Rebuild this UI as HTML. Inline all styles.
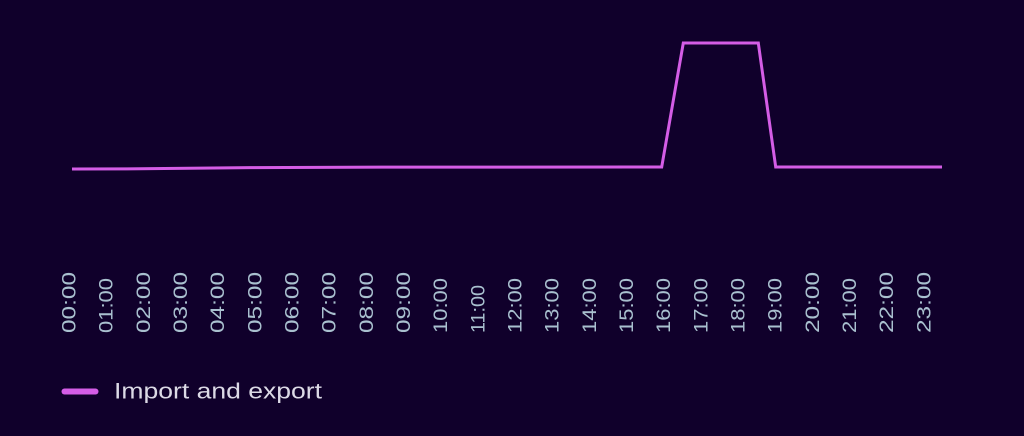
<!DOCTYPE html>
<html><head><meta charset="utf-8">
<style>
html,body{margin:0;padding:0;background:#10002b;}
svg{display:block;}
</style></head>
<body>
<svg width="1024" height="436" viewBox="0 0 1024 436" xmlns="http://www.w3.org/2000/svg">
<rect width="1024" height="436" fill="#10002b"/>
<polyline fill="none" stroke="#d45de6" stroke-width="3" stroke-linejoin="miter" stroke-linecap="butt"
 points="72,169 140,168.8 250,167.6 350,167.2 661.7,167 683.3,43 758.3,43 775.7,167 942,167"/>
<g font-family="Liberation Sans, sans-serif" font-size="19" fill="#a9c0cf">
<text transform="translate(75.5,333) rotate(-90)" textLength="61" lengthAdjust="spacingAndGlyphs">00:00</text>
<text transform="translate(112.7,333) rotate(-90)" textLength="55" lengthAdjust="spacingAndGlyphs">01:00</text>
<text transform="translate(149.8,333) rotate(-90)" textLength="61" lengthAdjust="spacingAndGlyphs">02:00</text>
<text transform="translate(187,333) rotate(-90)" textLength="61" lengthAdjust="spacingAndGlyphs">03:00</text>
<text transform="translate(224.2,333) rotate(-90)" textLength="61" lengthAdjust="spacingAndGlyphs">04:00</text>
<text transform="translate(261.4,333) rotate(-90)" textLength="61" lengthAdjust="spacingAndGlyphs">05:00</text>
<text transform="translate(298.5,333) rotate(-90)" textLength="61" lengthAdjust="spacingAndGlyphs">06:00</text>
<text transform="translate(335.7,333) rotate(-90)" textLength="61" lengthAdjust="spacingAndGlyphs">07:00</text>
<text transform="translate(372.9,333) rotate(-90)" textLength="61" lengthAdjust="spacingAndGlyphs">08:00</text>
<text transform="translate(410,333) rotate(-90)" textLength="61" lengthAdjust="spacingAndGlyphs">09:00</text>
<text transform="translate(447.2,333) rotate(-90)" textLength="55" lengthAdjust="spacingAndGlyphs">10:00</text>
<text transform="translate(484.4,333) rotate(-90)" textLength="48" lengthAdjust="spacingAndGlyphs">11:00</text>
<text transform="translate(521.5,333) rotate(-90)" textLength="55" lengthAdjust="spacingAndGlyphs">12:00</text>
<text transform="translate(558.7,333) rotate(-90)" textLength="55" lengthAdjust="spacingAndGlyphs">13:00</text>
<text transform="translate(595.9,333) rotate(-90)" textLength="55" lengthAdjust="spacingAndGlyphs">14:00</text>
<text transform="translate(633.1,333) rotate(-90)" textLength="55" lengthAdjust="spacingAndGlyphs">15:00</text>
<text transform="translate(670.2,333) rotate(-90)" textLength="55" lengthAdjust="spacingAndGlyphs">16:00</text>
<text transform="translate(707.4,333) rotate(-90)" textLength="55" lengthAdjust="spacingAndGlyphs">17:00</text>
<text transform="translate(744.6,333) rotate(-90)" textLength="55" lengthAdjust="spacingAndGlyphs">18:00</text>
<text transform="translate(781.7,333) rotate(-90)" textLength="55" lengthAdjust="spacingAndGlyphs">19:00</text>
<text transform="translate(818.9,333) rotate(-90)" textLength="61" lengthAdjust="spacingAndGlyphs">20:00</text>
<text transform="translate(856.1,333) rotate(-90)" textLength="55" lengthAdjust="spacingAndGlyphs">21:00</text>
<text transform="translate(893.2,333) rotate(-90)" textLength="61" lengthAdjust="spacingAndGlyphs">22:00</text>
<text transform="translate(930.4,333) rotate(-90)" textLength="61" lengthAdjust="spacingAndGlyphs">23:00</text>
</g>
<line x1="64.5" y1="391.5" x2="95.5" y2="391.5" stroke="#d45de6" stroke-width="6" stroke-linecap="round"/>
<text x="114" y="398.5" font-family="Liberation Sans, sans-serif" font-size="22" fill="#dcdae6" textLength="208" lengthAdjust="spacingAndGlyphs">Import and export</text>
</svg>
</body></html>
